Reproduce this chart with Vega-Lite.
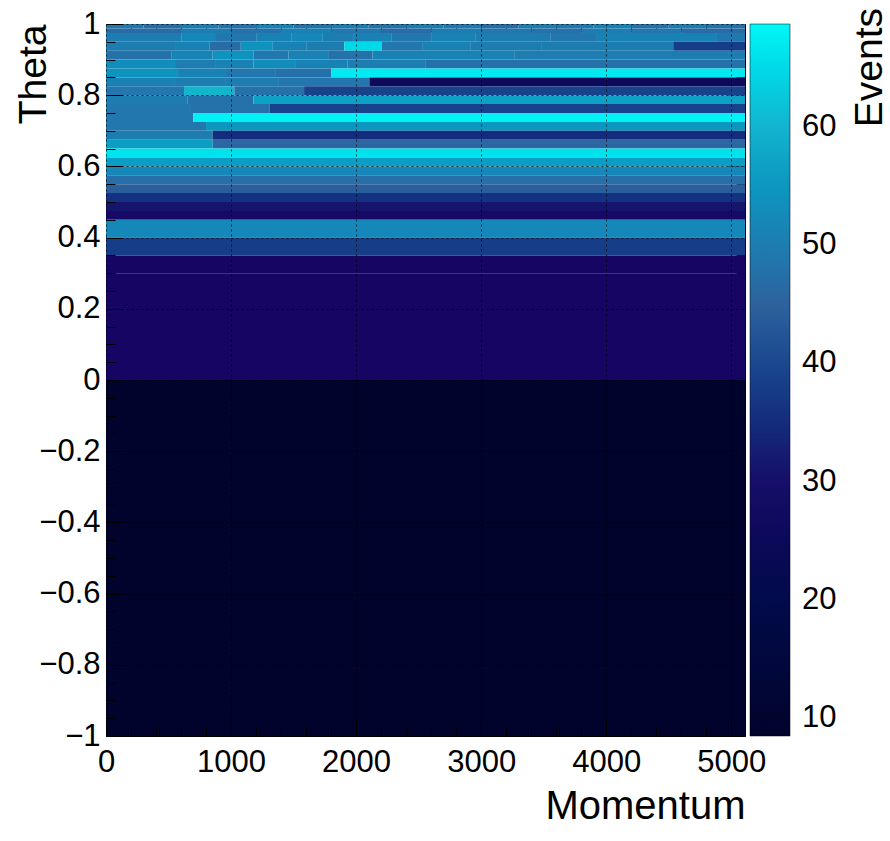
{
  "$schema": "https://vega.github.io/schema/vega-lite/v6.json",
  "width": 639,
  "height": 712,
  "autosize": {"type": "none"},
  "padding": {"left": 106, "top": 24, "right": 145, "bottom": 105},
  "background": "white",
  "config": {
    "font": "Liberation Sans",
    "view": {"stroke": "#000", "strokeWidth": 1},
    "axis": {"labelFont": "Liberation Sans", "titleFont": "Liberation Sans", "labelColor": "#000", "titleColor": "#000", "titleFontWeight": "normal", "labelFlush": false, "labelOverlap": false, "domain": false, "tickColor": "#000"}
  },
  "title": {"text": "Events", "orient": "right", "anchor": "start", "angle": -90, "align": "right", "baseline": "top", "fontSize": 39, "fontWeight": "normal", "font": "Liberation Sans", "color": "#000", "offset": -25},
  "data": {"values": [
    {"m0":0,"m1":300,"t0":0.9875,"t1":1.0,"n":49},{"m0":300,"m1":600,"t0":0.9875,"t1":1.0,"n":47},{"m0":600,"m1":900,"t0":0.9875,"t1":1.0,"n":50},{"m0":900,"m1":1200,"t0":0.9875,"t1":1.0,"n":48},{"m0":1200,"m1":1500,"t0":0.9875,"t1":1.0,"n":51},{"m0":1500,"m1":1800,"t0":0.9875,"t1":1.0,"n":48},{"m0":1800,"m1":2100,"t0":0.9875,"t1":1.0,"n":50},{"m0":2100,"m1":2400,"t0":0.9875,"t1":1.0,"n":48},{"m0":2400,"m1":2700,"t0":0.9875,"t1":1.0,"n":50},{"m0":2700,"m1":3000,"t0":0.9875,"t1":1.0,"n":49},{"m0":3000,"m1":3300,"t0":0.9875,"t1":1.0,"n":47},{"m0":3300,"m1":3600,"t0":0.9875,"t1":1.0,"n":50},{"m0":3600,"m1":3900,"t0":0.9875,"t1":1.0,"n":49},{"m0":3900,"m1":4200,"t0":0.9875,"t1":1.0,"n":51},{"m0":4200,"m1":4500,"t0":0.9875,"t1":1.0,"n":48},{"m0":4500,"m1":4800,"t0":0.9875,"t1":1.0,"n":50},{"m0":4800,"m1":5110,"t0":0.9875,"t1":1.0,"n":48},
    {"m0":0,"m1":600,"t0":0.975,"t1":0.9875,"n":47},{"m0":600,"m1":1000,"t0":0.975,"t1":0.9875,"n":50},{"m0":1000,"m1":1400,"t0":0.975,"t1":0.9875,"n":48},{"m0":1400,"m1":1800,"t0":0.975,"t1":0.9875,"n":51},{"m0":1800,"m1":2200,"t0":0.975,"t1":0.9875,"n":49},{"m0":2200,"m1":2600,"t0":0.975,"t1":0.9875,"n":47},{"m0":2600,"m1":3000,"t0":0.975,"t1":0.9875,"n":50},{"m0":3000,"m1":3400,"t0":0.975,"t1":0.9875,"n":49},{"m0":3400,"m1":3800,"t0":0.975,"t1":0.9875,"n":48},{"m0":3800,"m1":4200,"t0":0.975,"t1":0.9875,"n":50},{"m0":4200,"m1":4600,"t0":0.975,"t1":0.9875,"n":49},{"m0":4600,"m1":5110,"t0":0.975,"t1":0.9875,"n":47},
    {"m0":0,"m1":606,"t0":0.95,"t1":0.975,"n":50},{"m0":606,"m1":872,"t0":0.95,"t1":0.975,"n":52},{"m0":872,"m1":1206,"t0":0.95,"t1":0.975,"n":49},{"m0":1206,"m1":1486,"t0":0.95,"t1":0.975,"n":51},{"m0":1486,"m1":1734,"t0":0.95,"t1":0.975,"n":52},{"m0":1734,"m1":1976,"t0":0.95,"t1":0.975,"n":50},{"m0":1976,"m1":2286,"t0":0.95,"t1":0.975,"n":51},{"m0":2286,"m1":2606,"t0":0.95,"t1":0.975,"n":49},{"m0":2606,"m1":2952,"t0":0.95,"t1":0.975,"n":51},{"m0":2952,"m1":3552,"t0":0.95,"t1":0.975,"n":50},{"m0":3552,"m1":3926,"t0":0.95,"t1":0.975,"n":49},{"m0":3926,"m1":4886,"t0":0.95,"t1":0.975,"n":51},{"m0":4886,"m1":5110,"t0":0.95,"t1":0.975,"n":49},
    {"m0":0,"m1":552,"t0":0.925,"t1":0.95,"n":50},{"m0":552,"m1":826,"t0":0.925,"t1":0.95,"n":51},{"m0":826,"m1":1078,"t0":0.925,"t1":0.95,"n":47},{"m0":1078,"m1":1334,"t0":0.925,"t1":0.95,"n":54},{"m0":1334,"m1":1606,"t0":0.925,"t1":0.95,"n":51},{"m0":1606,"m1":1906,"t0":0.925,"t1":0.95,"n":50},{"m0":1906,"m1":2206,"t0":0.925,"t1":0.95,"n":65},{"m0":2206,"m1":2534,"t0":0.925,"t1":0.95,"n":49},{"m0":2534,"m1":2912,"t0":0.925,"t1":0.95,"n":51},{"m0":2912,"m1":3486,"t0":0.925,"t1":0.95,"n":50},{"m0":3486,"m1":4536,"t0":0.925,"t1":0.95,"n":50},{"m0":4536,"m1":5110,"t0":0.925,"t1":0.95,"n":38},
    {"m0":0,"m1":526,"t0":0.9,"t1":0.925,"n":48},{"m0":526,"m1":853,"t0":0.9,"t1":0.925,"n":51},{"m0":853,"m1":1179,"t0":0.9,"t1":0.925,"n":54},{"m0":1179,"m1":1459,"t0":0.9,"t1":0.925,"n":49},{"m0":1459,"m1":1776,"t0":0.9,"t1":0.925,"n":51},{"m0":1776,"m1":2130,"t0":0.9,"t1":0.925,"n":48},{"m0":2130,"m1":3264,"t0":0.9,"t1":0.925,"n":51},{"m0":3264,"m1":5110,"t0":0.9,"t1":0.925,"n":50},
    {"m0":0,"m1":552,"t0":0.875,"t1":0.9,"n":53},{"m0":552,"m1":872,"t0":0.875,"t1":0.9,"n":50},{"m0":872,"m1":1179,"t0":0.875,"t1":0.9,"n":51},{"m0":1179,"m1":1512,"t0":0.875,"t1":0.9,"n":53},{"m0":1512,"m1":1930,"t0":0.875,"t1":0.9,"n":51},{"m0":1930,"m1":2552,"t0":0.875,"t1":0.9,"n":50},{"m0":2552,"m1":5110,"t0":0.875,"t1":0.9,"n":48},
    {"m0":0,"m1":576,"t0":0.85,"t1":0.875,"n":54},{"m0":576,"m1":952,"t0":0.85,"t1":0.875,"n":51},{"m0":952,"m1":1352,"t0":0.85,"t1":0.875,"n":49},{"m0":1352,"m1":1800,"t0":0.85,"t1":0.875,"n":48},{"m0":1800,"m1":5110,"t0":0.85,"t1":0.875,"n":67},
    {"m0":0,"m1":552,"t0":0.825,"t1":0.85,"n":51},{"m0":552,"m1":952,"t0":0.825,"t1":0.85,"n":50},{"m0":952,"m1":1376,"t0":0.825,"t1":0.85,"n":50},{"m0":1376,"m1":2106,"t0":0.825,"t1":0.85,"n":49},{"m0":2106,"m1":5110,"t0":0.825,"t1":0.85,"n":26},
    {"m0":0,"m1":624,"t0":0.8,"t1":0.825,"n":49},{"m0":624,"m1":1026,"t0":0.8,"t1":0.825,"n":60},{"m0":1026,"m1":1584,"t0":0.8,"t1":0.825,"n":48},{"m0":1584,"m1":5110,"t0":0.8,"t1":0.825,"n":39},
    {"m0":0,"m1":650,"t0":0.775,"t1":0.8,"n":50},{"m0":650,"m1":1179,"t0":0.775,"t1":0.8,"n":48},{"m0":1179,"m1":5110,"t0":0.775,"t1":0.8,"n":57},
    {"m0":0,"m1":672,"t0":0.75,"t1":0.775,"n":49},{"m0":672,"m1":1307,"t0":0.75,"t1":0.775,"n":48},{"m0":1307,"m1":5110,"t0":0.75,"t1":0.775,"n":39},
    {"m0":0,"m1":699,"t0":0.725,"t1":0.75,"n":49},{"m0":699,"m1":5110,"t0":0.725,"t1":0.75,"n":68},
    {"m0":0,"m1":800,"t0":0.7,"t1":0.725,"n":49},{"m0":800,"m1":5110,"t0":0.7,"t1":0.725,"n":55},
    {"m0":0,"m1":853,"t0":0.675,"t1":0.7,"n":50},{"m0":853,"m1":5110,"t0":0.675,"t1":0.7,"n":35},
    {"m0":0,"m1":853,"t0":0.65,"t1":0.675,"n":56},{"m0":853,"m1":5110,"t0":0.65,"t1":0.675,"n":46},
    {"m0":0,"m1":5110,"t0":0.625,"t1":0.65,"n":66},
    {"m0":0,"m1":5110,"t0":0.6,"t1":0.625,"n":56},
    {"m0":0,"m1":5110,"t0":0.575,"t1":0.6,"n":52},
    {"m0":0,"m1":5110,"t0":0.55,"t1":0.575,"n":47.5},
    {"m0":0,"m1":5110,"t0":0.525,"t1":0.55,"n":44.5},
    {"m0":0,"m1":5110,"t0":0.5,"t1":0.525,"n":36},
    {"m0":0,"m1":5110,"t0":0.475,"t1":0.5,"n":31},
    {"m0":0,"m1":5110,"t0":0.45,"t1":0.475,"n":29.5},
    {"m0":0,"m1":5110,"t0":0.4,"t1":0.45,"n":52},
    {"m0":0,"m1":5110,"t0":0.35,"t1":0.4,"n":38},
    {"m0":0,"m1":5110,"t0":0.3,"t1":0.35,"n":29},
    {"m0":0,"m1":5110,"t0":0.0,"t1":0.3,"n":28.8},
    {"m0":0,"m1":5110,"t0":-1.0,"t1":0.0,"n":9}
  ]},
  "layer": [
    {
      "mark": {"type": "rect", "stroke": null},
      "encoding": {
        "x": {"field": "m0", "type": "quantitative",
          "scale": {"domain": [0, 5110], "nice": false, "zero": false},
          "axis": {"title": "Momentum", "orient": "bottom",
            "values": [0,200,400,600,800,1000,1200,1400,1600,1800,2000,2200,2400,2600,2800,3000,3200,3400,3600,3800,4000,4200,4400,4600,4800,5000],
            "labelExpr": "datum.value % 1000 === 0 ? format(datum.value, 'd') : ''",
            "labelFontSize": 31, "labelPadding": 26,
            "tickSize": {"condition": {"test": "datum.value % 1000 === 0", "value": -15}, "value": -8},
            "grid": true, "gridColor": "#000", "gridDash": [2,3],
            "gridOpacity": {"condition": {"test": "datum.value % 1000 === 0", "value": 0.7}, "value": 0},
            "zindex": 1,
            "titleFontSize": 40, "titleX": 639, "titleY": 82, "titleAlign": "right", "titleBaseline": "alphabetic", "titleAnchor": "end"}},
        "x2": {"field": "m1"},
        "y": {"field": "t0", "type": "quantitative",
          "scale": {"domain": [-1, 1], "nice": false, "zero": false},
          "axis": {"title": "Theta", "orient": "left",
            "values": [-1,-0.95,-0.9,-0.85,-0.8,-0.75,-0.7,-0.65,-0.6,-0.55,-0.5,-0.45,-0.4,-0.35,-0.3,-0.25,-0.2,-0.15,-0.1,-0.05,0,0.05,0.1,0.15,0.2,0.25,0.3,0.35,0.4,0.45,0.5,0.55,0.6,0.65,0.7,0.75,0.8,0.85,0.9,0.95,1],
            "labelExpr": "abs(round(datum.value*5) - datum.value*5) < 0.000001 ? format(datum.value, '~g') : ''",
            "labelFontSize": 31, "labelPadding": 23,
            "tickSize": {"condition": {"test": "abs(round(datum.value*5) - datum.value*5) < 0.000001", "value": -17}, "value": -9},
            "grid": true, "gridColor": "#000", "gridDash": [2,3],
            "gridOpacity": {"condition": {"test": "abs(round(datum.value*5) - datum.value*5) < 0.000001", "value": 0.7}, "value": 0},
            "zindex": 1,
            "titleFontSize": 39, "titleAngle": -90, "titleX": -92, "titleY": 0, "titleAlign": "right", "titleBaseline": "top", "titleAnchor": "end"}},
        "y2": {"field": "t1"},
        "color": {"field": "n", "type": "quantitative",
          "scale": {"type": "linear", "domain": [8.5, 28.97, 45.22, 59.07, 68.7], "range": ["#00032b", "#170563", "#2e639e", "#17adc9", "#00f7f7"], "clamp": true},
          "legend": {"title": null, "orient": "none", "legendX": 644, "legendY": 0, "direction": "vertical",
            "gradientLength": 712, "gradientThickness": 40, "gradientStrokeColor": "#000", "gradientStrokeWidth": 0.5,
            "values": [10,20,30,40,50,60], "labelFontSize": 31, "labelFont": "Liberation Sans", "labelColor": "#000", "labelOffset": 12, "labelOverlap": false, "padding": 0}}
      }
    },
    {
      "mark": {"type": "rect", "opacity": 0, "stroke": null},
      "encoding": {
        "x": {"field": "m0", "type": "quantitative",
          "axis": {"title": null, "orient": "top", "labels": false, "grid": false,
            "values": [0,200,400,600,800,1000,1200,1400,1600,1800,2000,2200,2400,2600,2800,3000,3200,3400,3600,3800,4000,4200,4400,4600,4800,5000],
            "tickSize": {"condition": {"test": "datum.value % 1000 === 0", "value": -15}, "value": -8}}},
        "x2": {"field": "m1"},
        "y": {"field": "t0", "type": "quantitative",
          "axis": {"title": null, "orient": "right", "labels": false, "grid": false,
            "values": [-1,-0.95,-0.9,-0.85,-0.8,-0.75,-0.7,-0.65,-0.6,-0.55,-0.5,-0.45,-0.4,-0.35,-0.3,-0.25,-0.2,-0.15,-0.1,-0.05,0,0.05,0.1,0.15,0.2,0.25,0.3,0.35,0.4,0.45,0.5,0.55,0.6,0.65,0.7,0.75,0.8,0.85,0.9,0.95,1],
            "tickSize": {"condition": {"test": "abs(round(datum.value*5) - datum.value*5) < 0.000001", "value": -17}, "value": -9}}},
        "y2": {"field": "t1"}
      }
    }
  ],
  "resolve": {"axis": {"x": "independent", "y": "independent"}}
}
